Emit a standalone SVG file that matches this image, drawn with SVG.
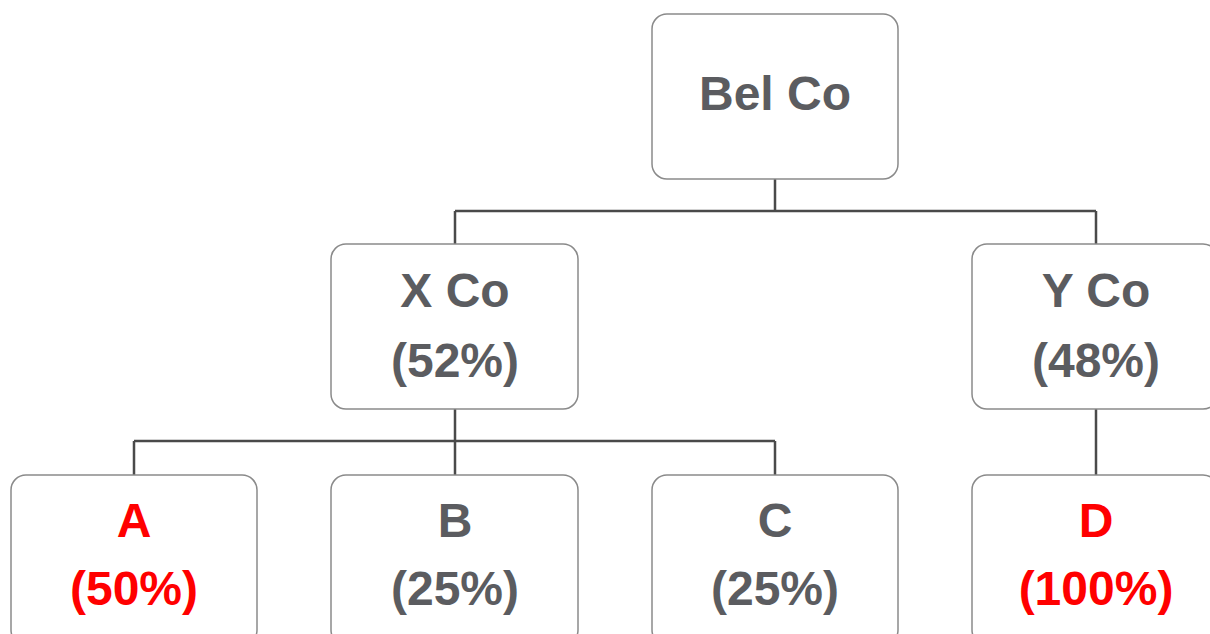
<svg xmlns="http://www.w3.org/2000/svg" width="1210" height="634" viewBox="0 0 1210 634">
<style>
.box{fill:#fff;stroke:#8a8a8a;stroke-width:1.5}
.t{font-family:"Liberation Sans",Arial,sans-serif;font-weight:bold;font-size:48px;text-anchor:middle;fill:#5b5c60}
.r{fill:#ff0000}
.c{fill:none;stroke:#4a4a4a;stroke-width:2.5}
</style>
<rect width="1210" height="634" fill="#fff"/>
<g id="connectors">
<path class="c" d="M775 179V211M455 211H1096M455 211V244M1096 211V244"/>
<path class="c" d="M455 409V475M134 441H775M134 441V475M775 441V475"/>
<path class="c" d="M1096 409V475"/>
</g>
<g id="belco"><rect class="box" x="652" y="14" width="246" height="165" rx="15"/><text class="t" x="775" y="110">Bel Co</text></g>
<g id="xco"><rect class="box" x="331" y="244" width="247" height="165" rx="15"/><text class="t" x="455" y="307">X Co</text><text class="t" x="455" y="377">(52%)</text></g>
<g id="yco"><rect class="box" x="972" y="244" width="246" height="165" rx="15"/><text class="t" x="1096" y="307">Y Co</text><text class="t" x="1096" y="377">(48%)</text></g>
<g id="a"><rect class="box" x="11" y="475" width="246" height="170" rx="15"/><text class="t r" x="134" y="537">A</text><text class="t r" x="134" y="605">(50%)</text></g>
<g id="b"><rect class="box" x="331" y="475" width="247" height="170" rx="15"/><text class="t" x="455" y="537">B</text><text class="t" x="455" y="605">(25%)</text></g>
<g id="c"><rect class="box" x="652" y="475" width="246" height="170" rx="15"/><text class="t" x="775" y="537">C</text><text class="t" x="775" y="605">(25%)</text></g>
<g id="d"><rect class="box" x="972" y="475" width="246" height="170" rx="15"/><text class="t r" x="1096" y="537">D</text><text class="t r" x="1096" y="605">(100%)</text></g>
</svg>
